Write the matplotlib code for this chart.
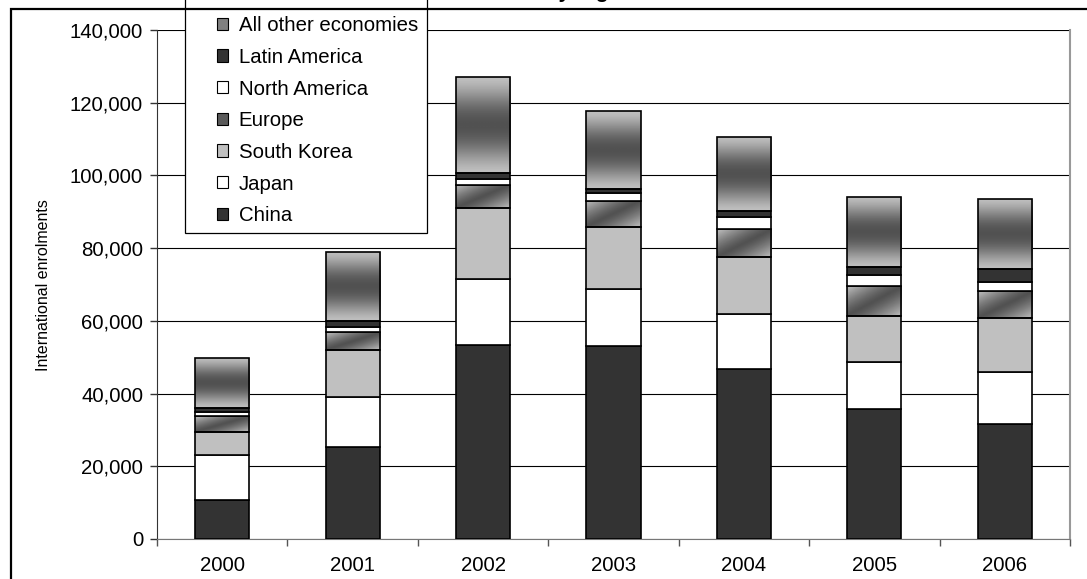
import numpy as np
import matplotlib
matplotlib.use("Agg")
import matplotlib.pyplot as plt
from matplotlib.patches import Patch, Rectangle
from matplotlib.ticker import FuncFormatter

plt.rcParams['font.family'] = ['Liberation Sans', 'DejaVu Sans']

years = ['2000', '2001', '2002', '2003', '2004', '2005', '2006']
china = [10700, 25400, 53300, 53200, 46800, 35700, 31600]
japan = [12400, 13700, 18100, 15500, 15000, 12900, 14300]
south_korea = [6400, 12900, 19600, 17100, 15900, 12800, 15000]
europe = [4300, 4800, 6400, 7300, 7600, 8100, 7300]
north_america = [1200, 1400, 1600, 2000, 3200, 3100, 2500]
latin_america = [900, 1800, 1800, 1300, 1800, 2100, 3600]
other = [14000, 19000, 26200, 21300, 20400, 19400, 19300]

series = [
    ('China', china, '#333333', None),
    ('Japan', japan, '#ffffff', None),
    ('South Korea', south_korea, '#c0c0c0', None),
    ('Europe', europe, '#5a5a5a', 'diag'),
    ('North America', north_america, '#ffffff', None),
    ('Latin America', latin_america, '#333333', None),
    ('All other economies', other, '#808080', 'vert'),
]

W, H = 1087, 579
fig = plt.figure(figsize=(W / 100, H / 100), dpi=100)
ax = fig.add_axes([157 / W, 1 - 539 / H, (1070 - 157) / W, (539 - 30) / H])

x = np.arange(len(years))
bw = 0.415
light, dark = 0.75, 0.32

bottom = np.zeros(len(years))
for name, vals, col, grad in series:
    vals = np.array(vals, dtype=float)
    bars = ax.bar(x, vals, bw, bottom=bottom, color=col if grad is None else 'none',
                  edgecolor='black', linewidth=1.2, zorder=3)
    if grad is not None:
        for r in bars:
            x0, y0 = r.get_x(), r.get_y()
            x1, y1 = x0 + r.get_width(), y0 + r.get_height()
            if grad == 'vert':
                t = np.linspace(0, 1, 120)[:, None]
                img = light - (light - dark) * np.sin(np.pi * t) ** 1.5
                img = np.repeat(img, 2, axis=1)
            else:
                u = np.linspace(0, 1, 60)[None, :]
                yy = np.linspace(1, 0, 40)[:, None]
                d = np.abs(u - yy)
                img = dark + (light - 0.05 - dark) * np.clip(d / 0.9, 0, 1) ** 1.3
            im = ax.imshow(img, extent=[x0, x1, y0, y1], aspect='auto', cmap='gray',
                           vmin=0, vmax=1, zorder=2.5)
            im.set_clip_path(r)
    bottom += vals

ax.set_xlim(-0.5, 6.5)
ax.set_ylim(0, 140000)
ax.set_yticks(np.arange(0, 140001, 20000))
ax.yaxis.set_major_formatter(FuncFormatter(lambda v, p: f'{int(v):,}'))
ax.yaxis.grid(True, color='black', linewidth=0.8, zorder=0)
ax.set_axisbelow(True)

ax.set_xticks(x)
ax.set_xticklabels(years)
ax.set_xticks(np.arange(-0.5, 7, 1), minor=True)
ax.tick_params(axis='x', which='major', length=0, pad=12, labelsize=14.7)
ax.tick_params(axis='x', which='minor', length=5, width=1, color='#555555', direction='out')
ax.tick_params(axis='y', length=5, width=1, color='#333333', pad=5, labelsize=14.7)

ax.spines['top'].set_visible(False)
ax.spines['left'].set_color('#333333')
ax.spines['bottom'].set_color('#777777')
ax.spines['right'].set_color('#999999')
ax.spines['right'].set_linewidth(1.5)

fig.text(44 / W, 1 - 285 / H, 'International enrolments', rotation=90,
         ha='center', va='center', fontsize=11.5)

fig.text(296 / W, 1 + 2 / H, 'International enrolments by region', ha='left',
         va='baseline', fontsize=15, fontweight='bold', zorder=4)

box = Rectangle((185 / W, 1 - 233 / H), (427 - 185) / W, (233 - 9) / H + 0.05,
                transform=fig.transFigure, facecolor='white', edgecolor='black',
                linewidth=0.9, zorder=5)
fig.add_artist(box)

handles = [Patch(facecolor=col, edgecolor='black', linewidth=0.8, label=name)
           for name, vals, col, grad in series][::-1]
leg = fig.legend(handles=handles, loc='upper left', bbox_to_anchor=(207 / W, 1 - 6 / H),
                 frameon=False, borderpad=0, handlelength=0.55, handleheight=0.55,
                 handletextpad=0.5, labelspacing=0.62, fontsize=14.7)
leg.set_zorder(6)

border = Rectangle((11 / W, -0.1), 1.2, 1 - 9 / H + 0.1, transform=fig.transFigure,
                   fill=False, edgecolor='black', linewidth=1.6, zorder=7)
fig.add_artist(border)

fig.savefig('out.png', dpi=100)
